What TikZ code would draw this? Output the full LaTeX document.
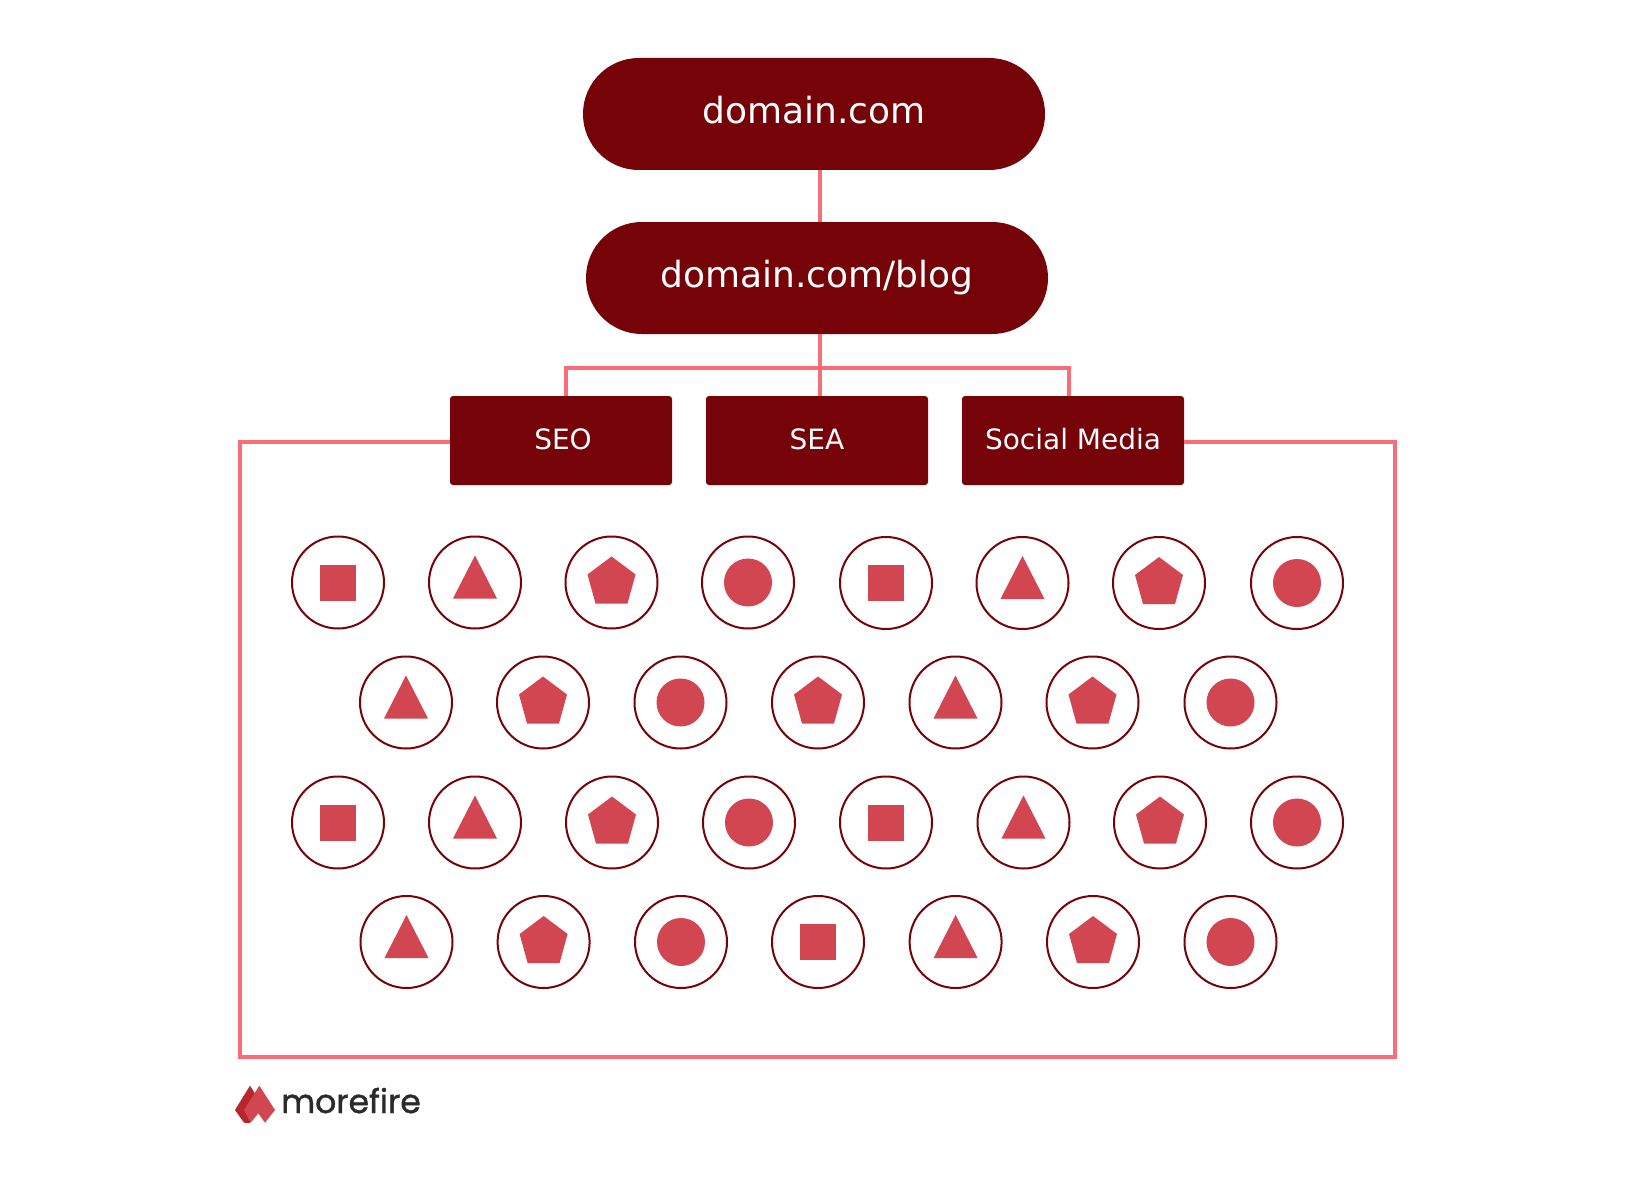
\documentclass[tikz,border=0pt]{standalone}
\usepackage{fontspec}
\setmainfont{DejaVu Sans}
\newfontfamily\logofont[FakeBold=1.2]{Poppins}
\definecolor{darkred}{HTML}{750308}
\definecolor{linepink}{HTML}{F96D78}
\definecolor{shapered}{HTML}{D24651}
\definecolor{logodark}{HTML}{B8252F}
\definecolor{logotext}{HTML}{2B2B2B}
\tikzset{
  pill/.style={fill=darkred,text=white,draw=none,minimum width=462pt,minimum height=112pt,rounded corners=55.9pt,inner sep=0pt,outer sep=0pt,font=\fontsize{36}{42}\selectfont},
  topicbox/.style={fill=darkred,text=white,draw=none,minimum width=222pt,minimum height=89pt,rounded corners=3pt,inner sep=0pt,outer sep=0pt,font=\fontsize{28}{33}\selectfont},
  wire/.style={draw=linepink,line width=4pt},
  ring/.style={circle,draw=darkred,line width=2pt,fill=white,minimum size=92pt,inner sep=0pt,outer sep=0pt},
  glyph/.style={fill=shapered,draw=none},
}
\newcommand{\shpS}[2]{\fill[glyph,shift={(#1,#2)}] (-18,-18) rectangle (18,18);}
\newcommand{\shpT}[2]{\fill[glyph,shift={(#1,#2)}] (0,-27) -- (22,16) -- (-22,16) -- cycle;}
\newcommand{\shpP}[2]{\fill[glyph,shift={(#1,#2)}] (0,-26) -- (24,-8) -- (16,21) -- (-16,21) -- (-24,-8) -- cycle;}
\newcommand{\shpC}[2]{\fill[glyph,shift={(#1,#2)}] (0,0) circle[radius=24];}
\begin{document}
\begin{tikzpicture}[x=1pt,y=-1pt]
\useasboundingbox[fill=white] (0,0) rectangle (1636,1196);
% nodes
\node[pill] (root) at (814,114) {\raisebox{8pt}{domain.com}};
\node[pill] (blog) at (817,278) {\raisebox{6pt}{domain.com/blog}};
\node[topicbox] (seo) at (561,440.5) {\hspace{4pt}\raisebox{3pt}{SEO}};
\node[topicbox] (sea) at (817,440.5) {\raisebox{3pt}{SEA}};
\node[topicbox] (social) at (1073,440.5) {\raisebox{3pt}{Social Media}\hspace{3pt}};
% connector anchors
\coordinate (trunk) at (820,368);
\coordinate (ftl) at (240,442);
\coordinate (fbl) at (240,1057);
\coordinate (fbr) at (1394.5,1057);
\coordinate (ftr) at (1394.5,442);
\coordinate (seodrop) at (566,396);
\coordinate (socdrop) at (1069,396);
% connectors
\draw[wire] (trunk |- root.south) -- (trunk |- blog.north);
\draw[wire] (trunk |- blog.south) -- (trunk |- sea.north);
\draw[wire] (seodrop |- seo.north) -- (seodrop |- trunk) -- (socdrop |- trunk) -- (socdrop |- social.north);
\draw[wire] (seo.west |- ftl) -- (ftl) -- (fbl) -- (fbr) -- (ftr) -- (social.east |- ftr);
% rings
\foreach \n/\x/\y/\k in {
 a1/338/582.5/S,a2/475/582.5/T,a3/611.5/582.5/P,a4/748/582.5/C,a5/886/583/S,a6/1022.5/583/T,a7/1159/583/P,a8/1297/583/C,
 b1/406/702.5/T,b2/543/702.5/P,b3/680.5/702.5/C,b4/818/702.5/P,b5/955.5/702.5/T,b6/1092.5/702.5/P,b7/1230.5/702.5/C,
 c1/338/822.5/S,c2/475/822.5/T,c3/612/822.5/P,c4/749/822.5/C,c5/886/822.5/S,c6/1023.5/822.5/T,c7/1160/822.5/P,c8/1297/822.5/C,
 d1/406.5/942/T,d2/543.6/942/P,d3/681/942/C,d4/818/942/S,d5/955.6/942/T,d6/1093/942/P,d7/1230.5/942/C}{
  \node[ring] (\n) at (\x,\y) {};
  \csname shp\k\endcsname{\x}{\y}
}
% logo
\fill[logodark] (235,1110) -- (250,1085.7) -- (256,1095) -- (250,1123) -- (244,1122.7) -- cycle;
\fill[shapered] (259.3,1085.7) -- (275,1110) -- (265,1122.7) -- (258.3,1113.3) -- (250.7,1122.7) -- (244,1110) -- cycle;
\node[anchor=base west,inner sep=0pt,text=logotext,font=\logofont\fontsize{33}{40}\selectfont] (logo) at (281,1113) {morefire};
\end{tikzpicture}
\end{document}
